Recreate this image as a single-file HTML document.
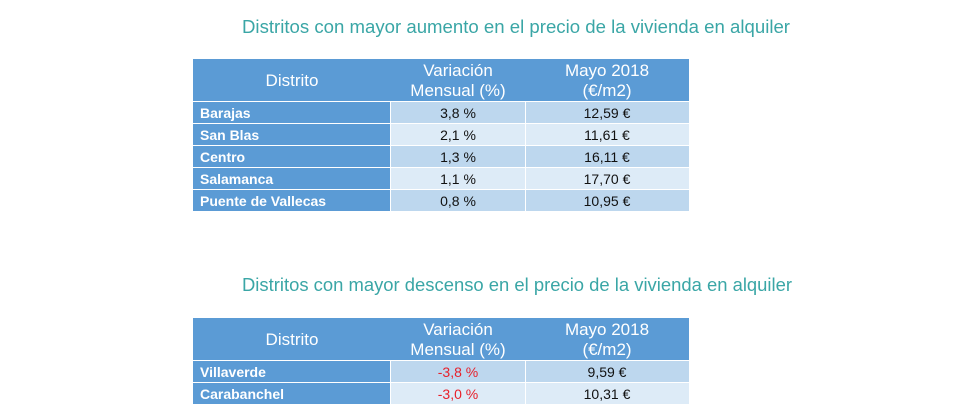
<!DOCTYPE html>
<html><head><meta charset="utf-8"><style>
html,body{margin:0;padding:0;background:#fff;width:980px;height:420px;overflow:hidden}
svg{display:block;font-family:"Liberation Sans",sans-serif}
</style></head><body>
<svg id="s" width="980" height="420">
<text x="242" y="33" font-size="18" fill="#3aa6a6" textLength="548" lengthAdjust="spacingAndGlyphs">Distritos con mayor aumento en el precio de la vivienda en alquiler</text>
<text x="242" y="291" font-size="18" fill="#3aa6a6" textLength="550" lengthAdjust="spacingAndGlyphs">Distritos con mayor descenso en el precio de la vivienda en alquiler</text>
</svg>
<script>
const upNames=["Barajas","San Blas","Centro","Salamanca","Puente de Vallecas"];
const upVar=["3,8 %","2,1 %","1,3 %","1,1 %","0,8 %"];
const upPrice=["12,59 €","11,61 €","16,11 €","17,70 €","10,95 €"];
const downNames=["Villaverde","Carabanchel"];
const downVar=["-3,8 %","-3,0 %"];
const downPrice=["9,59 €","10,31 €"];
const NS="http://www.w3.org/2000/svg";
const svg=document.getElementById('s');
function el(tag,attrs,parent){const e=document.createElementNS(NS,tag);for(const k in attrs)e.setAttribute(k,attrs[k]);(parent||svg).appendChild(e);return e;}
function txt(x,y,s,attrs,parent){const t=el('text',Object.assign({x:x,y:y},attrs),parent);t.textContent=s;return t;}
const cols=[193,391,526,689];
function table(top,names,vars,prices,name,neg){
  const g=el('g',{});
  
  
  const h=el('rect',{x:193,y:top,width:496,height:42,fill:'#5b9bd5'},g);
  
  
  txt(292,top+27,"Distrito",{'font-size':17,fill:'#fff','text-anchor':'middle'},g);
  txt(458,top+17,"Variación",{'font-size':17,fill:'#fff','text-anchor':'middle'},g);
  txt(458,top+37,"Mensual (%)",{'font-size':17,fill:'#fff','text-anchor':'middle'},g);
  txt(607,top+17,"Mayo 2018",{'font-size':17,fill:'#fff','text-anchor':'middle'},g);
  txt(607,top+37,"(€/m2)",{'font-size':17,fill:'#fff','text-anchor':'middle'},g);
  names.forEach((n,i)=>{
    const y=top+43+i*22;
    const r=el('g',{},g);
    
    
    el('rect',{x:193,y:y,width:197,height:21,fill:'#5b9bd5'},r);
    const bg=i%2===0?'#bdd7ee':'#ddebf7';
    el('rect',{x:391,y:y,width:134,height:21,fill:bg},r);
    el('rect',{x:526,y:y,width:163,height:21,fill:bg},r);
    txt(200,y+16,n,{'font-size':14,'font-weight':'bold',fill:'#fff'},r);
    txt(458,y+16,vars[i],{'font-size':14,fill:neg?'#e8202a':'#111','text-anchor':'middle'},r);
    txt(607,y+16,prices[i],{'font-size':14,fill:'#111','text-anchor':'middle'},r);
  });
}
table(59,upNames,upVar,upPrice,'table-increase',false);
table(318,downNames,downVar,downPrice,'table-decrease',true);
</script>
</body></html>
